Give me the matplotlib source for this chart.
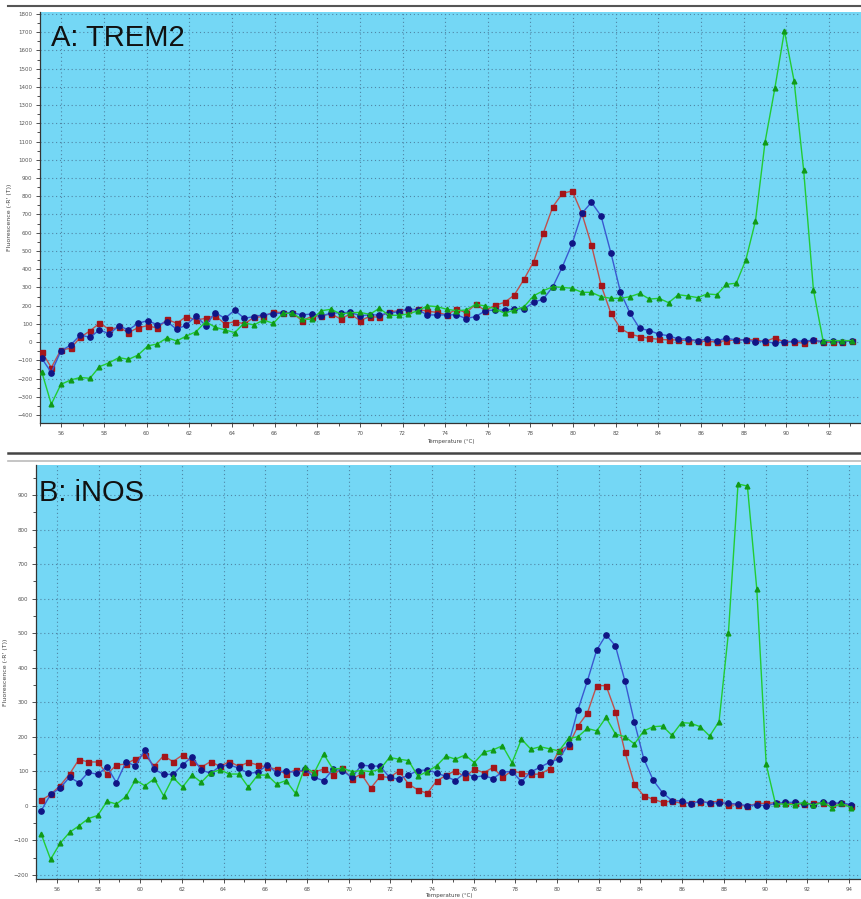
import matplotlib.pyplot as plt
from matplotlib.lines import Line2D
from matplotlib.ticker import MultipleLocator

# Panel A: TREM2 melt curves
temps_a = [55.08, 55.53, 55.98, 56.44, 56.89, 57.34, 57.79, 58.25, 58.70, 59.15,
           59.60, 60.06, 60.51, 60.96, 61.41, 61.86, 62.32, 62.77, 63.22, 63.67,
           64.13, 64.58, 65.03, 65.48, 65.94, 66.39, 66.84, 67.29, 67.74, 68.20,
           68.65, 69.10, 69.55, 70.01, 70.46, 70.91, 71.36, 71.82, 72.27, 72.72,
           73.17, 73.62, 74.08, 74.53, 74.98, 75.43, 75.89, 76.34, 76.79, 77.24,
           77.70, 78.15, 78.60, 79.05, 79.50, 79.96, 80.41, 80.86, 81.31, 81.77,
           82.22, 82.67, 83.12, 83.58, 84.03, 84.48, 84.93, 85.38, 85.84, 86.29,
           86.74, 87.19, 87.65, 88.10, 88.55, 89.00, 89.46, 89.91, 90.36, 90.81,
           91.27, 91.72, 92.17, 92.62, 93.08]
red_a = [-52, -140, -43, -34, 26, 61, 103, 70, 81, 52,
         79, 90, 76, 125, 103, 140, 121, 130, 145, 100,
         112, 100, 135, 140, 165, 162, 158, 118, 140, 145,
         154, 127, 154, 118, 140, 136, 167, 171, 176, 180,
         169, 163, 149, 182, 161, 207, 172, 202, 218, 258,
         345, 441, 597, 743, 816, 829, 706, 533, 313, 158,
         75, 44, 30, 21, 15, 12, 12, 8, 8, 2,
         2, 8, 12, 12, 12, 2, 24, -1, 2, -7,
         12, -1, -1, 2, 8]
blue_a = [-89, -167, -49, -16, 39, 26, 67, 45, 89, 67,
          103, 118, 94, 112, 70, 94, 143, 90, 162, 130,
          175, 130, 140, 150, 155, 160, 161, 149, 154, 145,
          158, 161, 163, 145, 149, 149, 158, 167, 182, 176,
          149, 149, 149, 150, 129, 140, 172, 176, 176, 182,
          182, 218, 236, 304, 414, 542, 706, 767, 692, 490,
          275, 158, 75, 63, 43, 35, 17, 17, 8, 17,
          8, 21, 12, 12, 2, 4, -7, 2, 4, 6,
          10, 2, 8, 2, 8]
green_a = [-162, -341, -232, -208, -194, -199, -135, -113, -85, -95,
           -71, -21, -10, 24, 6, 33, 57, 112, 81, 67,
           52, 105, 94, 121, 103, 158, 158, 125, 125, 172,
           180, 154, 161, 163, 152, 185, 147, 147, 154, 172,
           199, 194, 180, 172, 176, 207, 198, 183, 158, 176,
           194, 254, 282, 304, 300, 295, 273, 273, 249, 240,
           240, 249, 267, 236, 240, 216, 260, 253, 244, 264,
           260, 317, 323, 451, 664, 1097, 1392, 1707, 1434, 944,
           286, 8, 8, 8, 8]

# Panel B: iNOS melt curves
temps_b = [55.25, 55.70, 56.15, 56.61, 57.06, 57.51, 57.96, 58.41, 58.86, 59.32,
           59.77, 60.22, 60.67, 61.12, 61.57, 62.03, 62.48, 62.93, 63.38, 63.83,
           64.28, 64.74, 65.19, 65.64, 66.09, 66.54, 66.99, 67.45, 67.90, 68.35,
           68.80, 69.25, 69.70, 70.16, 70.61, 71.06, 71.51, 71.96, 72.41, 72.87,
           73.32, 73.77, 74.22, 74.67, 75.12, 75.58, 76.03, 76.48, 76.93, 77.38,
           77.84, 78.29, 78.74, 79.19, 79.64, 80.09, 80.55, 81.00, 81.45, 81.90,
           82.35, 82.80, 83.26, 83.71, 84.16, 84.61, 85.06, 85.51, 85.97, 86.42,
           86.87, 87.32, 87.77, 88.22, 88.68, 89.13, 89.58, 90.03, 90.48, 90.93,
           91.39, 91.84, 92.29, 92.74, 93.19, 93.64, 94.10]
red_b = [16, 33, 58, 92, 134, 127, 127, 92, 118, 121,
         136, 148, 115, 145, 128, 147, 128, 112, 128, 114,
         128, 114, 126, 118, 112, 106, 92, 104, 98, 98,
         106, 89, 109, 78, 92, 51, 85, 82, 101, 63,
         46, 36, 72, 88, 102, 83, 106, 96, 111, 82,
         102, 94, 91, 92, 107, 160, 174, 231, 268, 348,
         348, 273, 155, 62, 29, 19, 10, 14, 7, 9,
         12, 9, 14, 2, 3, -2, 7, 7, 9, 7,
         7, 4, 7, 9, 5, 7, 0]
blue_b = [-14, 33, 51, 83, 67, 97, 91, 113, 67, 128,
          115, 162, 106, 91, 91, 118, 142, 104, 94, 115,
          118, 109, 94, 97, 118, 96, 102, 96, 106, 82,
          73, 106, 102, 82, 118, 115, 115, 82, 77, 89,
          102, 104, 95, 85, 73, 96, 83, 87, 79, 98,
          99, 70, 98, 112, 126, 136, 179, 278, 361, 451,
          495, 463, 360, 242, 136, 74, 38, 15, 14, 5,
          14, 7, 9, 7, 5, 0, 3, 0, 7, 10,
          10, 5, 3, 10, 7, 9, 3]
green_b = [-82, -155, -109, -77, -58, -37, -28, 13, 5, 27,
           75, 58, 78, 29, 82, 54, 89, 68, 96, 104,
           92, 92, 54, 89, 89, 63, 73, 36, 112, 96,
           150, 106, 109, 99, 102, 99, 106, 140, 135, 131,
           86, 99, 116, 144, 135, 147, 125, 155, 162, 174,
           125, 193, 164, 171, 165, 159, 195, 200, 224, 217,
           256, 208, 200, 179, 217, 229, 231, 204, 241, 239,
           229, 202, 244, 501, 932, 926, 628, 120, 5, 5,
           3, 10, 2, 10, -5, 7, -5]

bg = '#74d7f5'
grid_col = '#4f86a6'

fig = plt.figure(figsize=(8.61, 8.99), dpi=100)
fig.patch.set_facecolor('white')


def style_axes(ax, xlim, ylim, xlabel_y):
    ax.set_facecolor(bg)
    ax.set_xlim(*xlim)
    ax.set_ylim(*ylim)
    ax.xaxis.set_major_locator(MultipleLocator(2))
    ax.xaxis.set_minor_locator(MultipleLocator(1))
    ax.yaxis.set_major_locator(MultipleLocator(100))
    ax.yaxis.set_minor_locator(MultipleLocator(50))
    ax.grid(True, which='major', color=grid_col, linestyle=(0, (1, 2.5)), linewidth=0.8)
    ax.tick_params(which='both', direction='out', colors='#333333', labelcolor='#555555',
                   labelsize=4, width=0.6)
    ax.tick_params(which='major', length=3, pad=2.5)
    ax.tick_params(which='minor', length=2)
    for s in ['top', 'right']:
        ax.spines[s].set_visible(False)
    for s in ['left', 'bottom']:
        ax.spines[s].set_color('#333333')
        ax.spines[s].set_linewidth(0.9)
    ax.set_xlabel('Temperature (°C)', fontsize=4, color='#444444')
    ax.xaxis.set_label_coords(0.5, xlabel_y)
    ax.set_ylabel("Fluorescence (-R' (T))", fontsize=4.5, color='#444444', labelpad=4)


def draw_series(ax, t, red, blue, green):
    ax.plot(t, red, color='#c0504d', linewidth=1.0, marker='s', markersize=3.6,
            markerfacecolor='#a3151a', markeredgecolor='#a3151a', zorder=3)
    ax.plot(t, blue, color='#3a58d0', linewidth=1.0, marker='o', markersize=3.8,
            markerfacecolor='#101585', markeredgecolor='#101585', zorder=4)
    ax.plot(t, green, color='#22cc33', linewidth=1.0, marker='^', markersize=3.4,
            markerfacecolor='#109a18', markeredgecolor='#109a18', zorder=5)


ax_a = fig.add_axes([40 / 861, 1 - 423 / 899, 821 / 861, 411 / 899])
style_axes(ax_a, (55.0, 93.5), (-444, 1811), -0.04)
draw_series(ax_a, temps_a, red_a, blue_a, green_a)
ax_a.text(0.014, 0.97, 'A: TREM2', transform=ax_a.transAxes, fontsize=21,
          family='Liberation Sans', va='top', ha='left', color='#111111')

ax_b = fig.add_axes([36 / 861, 1 - 879 / 899, 825 / 861, 414 / 899])
style_axes(ax_b, (55.0, 94.58), (-212, 987), -0.033)
draw_series(ax_b, temps_b, red_b, blue_b, green_b)
ax_b.text(0.004, 0.965, 'B: iNOS', transform=ax_b.transAxes, fontsize=21,
          family='Liberation Sans', va='top', ha='left', color='#111111')

# separator lines between the screenshots
fig.add_artist(Line2D([8 / 861, 1], [1 - 6 / 899] * 2, color='#555555', linewidth=1.5))
fig.add_artist(Line2D([8 / 861, 1], [1 - 453 / 899] * 2, color='#444444', linewidth=1.8))
fig.add_artist(Line2D([8 / 861, 1], [1 - 461 / 899] * 2, color='#bbbbbb', linewidth=1.2))

fig.savefig('out.png', dpi=100, facecolor='white')
